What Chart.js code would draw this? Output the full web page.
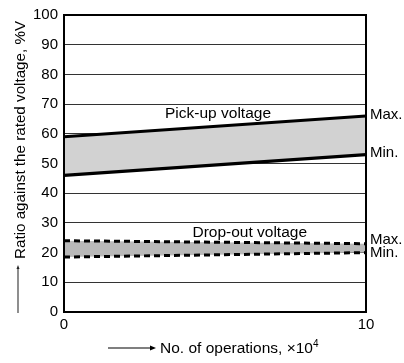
<!DOCTYPE html>
<html>
<head>
<meta charset="utf-8">
<script src="https://cdn.jsdelivr.net/npm/chart.js@4"></script>
<style>
  html, body { margin: 0; padding: 0; background: #fff; }
  #wrap { width: 404px; height: 363px; }
</style>
</head>
<body>
<div id="wrap"><canvas id="relayChart" width="404" height="363"></canvas></div>
<script>
// --- Data ---
const operations = [0, 10];           // x 10^4
const pickUpMax = [59, 66];
const pickUpMin = [46, 53];
const dropOutMax = [24, 23];
const dropOutMin = [18.5, 20];
const yTicks = [0, 10, 20, 30, 40, 50, 60, 70, 80, 90, 100];

const FONT = 'Arial, "Liberation Sans", sans-serif';
const pts = (vals) => operations.map((x, i) => ({ x, y: vals[i] }));

// small filled arrowhead at (x, y) pointing in direction angle
const arrowHead = (ctx, x, y, angle, len, half) => {
    ctx.save();
    ctx.translate(x, y);
    ctx.rotate(angle);
    ctx.beginPath();
    ctx.moveTo(0, 0);
    ctx.lineTo(-len, -half);
    ctx.lineTo(-len, half);
    ctx.closePath();
    ctx.fill();
    ctx.restore();
};

// Frame, axis titles and curve labels
const annotations = {
    id: 'annotations',
    afterDraw(chart) {
        const { ctx, chartArea: a, scales: { x, y } } = chart;
        ctx.save();
        ctx.strokeStyle = '#000';
        ctx.lineWidth = 2;
        ctx.strokeRect(a.left, a.top, a.right - a.left, a.bottom - a.top);

        ctx.fillStyle = '#000';
        ctx.font = '15.5px ' + FONT;
        ctx.textBaseline = 'alphabetic';
        ctx.textAlign = 'center';
        ctx.fillText('Pick-up voltage', x.getPixelForValue(5.1), y.getPixelForValue(65.3));
        ctx.fillText('Drop-out voltage', x.getPixelForValue(6.15), y.getPixelForValue(25.1));

        ctx.font = '15px ' + FONT;
        ctx.textAlign = 'left';
        ctx.textBaseline = 'middle';
        const rx = a.right + 4;
        ctx.fillText('Max.', rx, y.getPixelForValue(pickUpMax[1]) - 1);
        ctx.fillText('Min.', rx, y.getPixelForValue(pickUpMin[1]) - 1.5);
        ctx.fillText('Max.', rx, y.getPixelForValue(dropOutMax[1]) - 4);
        ctx.fillText('Min.', rx, y.getPixelForValue(dropOutMin[1]) + 0.5);

        // y axis title with leading arrow
        ctx.strokeStyle = '#444';
        ctx.lineWidth = 1.2;
        ctx.beginPath();
        ctx.moveTo(18, 313);
        ctx.lineTo(18, 268);
        ctx.stroke();
        ctx.fillStyle = '#222';
        arrowHead(ctx, 18, 265, -Math.PI / 2, 4, 1.5);
        ctx.fillStyle = '#000';
        ctx.translate(25, 259);
        ctx.rotate(-Math.PI / 2);
        ctx.textAlign = 'left';
        ctx.textBaseline = 'alphabetic';
        ctx.font = '15.2px ' + FONT;
        ctx.fillText('Ratio against the rated voltage, %V', 0, 0);
        ctx.setTransform(1, 0, 0, 1, 0, 0);

        // x axis title with leading arrow
        ctx.strokeStyle = '#000';
        ctx.beginPath();
        ctx.moveTo(108, 348);
        ctx.lineTo(152, 348);
        ctx.stroke();
        arrowHead(ctx, 156, 348, 0, 6, 2.5);
        ctx.textAlign = 'left';
        ctx.textBaseline = 'alphabetic';
        ctx.font = '15.5px ' + FONT;
        const t = 'No. of operations, \u00d710';
        ctx.fillText(t, 160, 353);
        const w = ctx.measureText(t).width;
        ctx.font = '10px ' + FONT;
        ctx.fillText('4', 160 + w, 347);
        ctx.restore();
    }
};

const initializeRelayChart = () => {
    const ctx = document.getElementById('relayChart').getContext('2d');
    new Chart(ctx, {
        type: 'line',
        data: {
            datasets: [
                { data: pts(pickUpMax), borderColor: '#000', borderWidth: 3.2, pointRadius: 0, fill: false },
                { data: pts(pickUpMin), borderColor: '#000', borderWidth: 3.2, pointRadius: 0,
                  fill: '-1', backgroundColor: '#d2d2d2' },
                { data: pts(dropOutMax), borderColor: '#000', borderWidth: 3, borderDash: [6, 4],
                  pointRadius: 0, fill: false },
                { data: pts(dropOutMin), borderColor: '#000', borderWidth: 3, borderDash: [6, 4],
                  pointRadius: 0, fill: '-1', backgroundColor: '#b9b9b9' }
            ]
        },
        options: {
            responsive: false,
            animation: false,
            layout: { padding: { top: 12, right: 38, left: 0, bottom: 0 } },
            plugins: { legend: { display: false }, tooltip: { enabled: false } },
            scales: {
                x: {
                    type: 'linear', min: 0, max: 10,
                    afterBuildTicks: (s) => { s.ticks = operations.map(v => ({ value: v })); },
                    afterFit: (s) => { s.height = 51; },
                    grid: { display: false },
                    border: { display: false },
                    ticks: { color: '#000', font: { family: FONT, size: 15 }, padding: -4, maxRotation: 0 }
                },
                y: {
                    min: 0, max: 100,
                    afterBuildTicks: (s) => { s.ticks = yTicks.map(v => ({ value: v })); },
                    afterFit: (s) => { s.width = 64; },
                    grid: { color: '#333', lineWidth: 1, drawTicks: false },
                    border: { display: false },
                    ticks: { color: '#000', font: { family: FONT, size: 15 }, padding: 6 }
                }
            }
        },
        plugins: [annotations]
    });
};

initializeRelayChart();
</script>
</body>
</html>
